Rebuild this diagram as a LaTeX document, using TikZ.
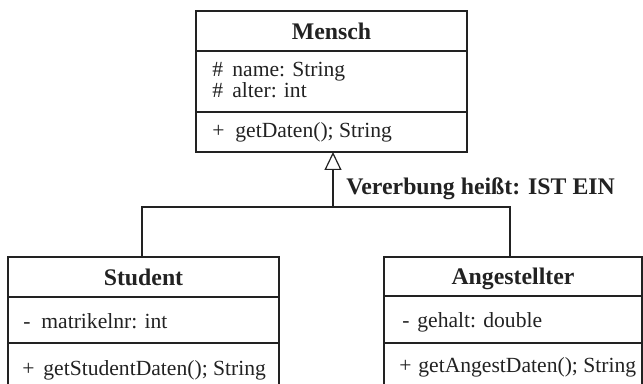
\documentclass[tikz,border=0pt]{standalone}
\usepackage{fontspec}
\setmainfont{Liberation Serif}
\usetikzlibrary{arrows.meta}
\definecolor{ink}{HTML}{222222}
\begin{document}
\begin{tikzpicture}[x=0.5pt,y=-0.5pt,
  classbox/.style={draw=ink, line width=0.6pt, rectangle, inner sep=0pt, outer sep=0pt, anchor=north west},
  classtitle/.style={anchor=base, font=\fontsize{11.9}{13}\selectfont\bfseries, text=ink, inner sep=0pt},
  member/.style={anchor=base west, font=\fontsize{10.8}{12}\selectfont, text=ink, inner sep=0pt},
  sepline/.style={draw=ink, line width=0.6pt},
  link/.style={draw=ink, line width=0.6pt},
  inherit/.style={link, -{Triangle[open, length=9pt, width=8.5pt, fill=white]}},
  lbl/.style={anchor=base west, font=\fontsize{11.9}{13}\selectfont\bfseries, text=ink, inner sep=0pt}]
\useasboundingbox (0,0) rectangle (643,384);
\clip (0,0) rectangle (643,384);

% Mensch
\node[classbox, minimum width=135.5pt, minimum height=70.5pt] (mensch) at (196,11) {};
\draw[sepline] ([yshift=-20pt]mensch.north west) -- ([yshift=-20pt]mensch.north east);
\draw[sepline] ([yshift=-50.5pt]mensch.north west) -- ([yshift=-50.5pt]mensch.north east);
\node[classtitle] (menschT) at (331.5,40) {Mensch};
\node[member] (menschA1) at (212,77) {\makebox[10pt][l]{\#}name: String};
\node[member] (menschA2) at (212,98) {\makebox[10pt][l]{\#}alter: int};
\node[member] (menschM1) at (212,138) {\makebox[11.5pt][l]{+}getDaten(); String};

% Student
\node[classbox, minimum width=135.5pt, minimum height=67.5pt] (stud) at (8,257) {};
\draw[sepline] ([yshift=-20pt]stud.north west) -- ([yshift=-20pt]stud.north east);
\draw[sepline] ([yshift=-43pt]stud.north west) -- ([yshift=-43pt]stud.north east);
\node[classtitle] (studT) at (143.5,286) {Student};
\node[member] (studA1) at (23,329) {\makebox[9pt][l]{-}matrikelnr: int};
\node[member] (studM1) at (22,376) {\makebox[10.5pt][l]{+}getStudentDaten(); String};

% Angestellter
\node[classbox, minimum width=129pt, minimum height=67.5pt] (ang) at (384,257) {};
\draw[sepline] ([yshift=-19.5pt]ang.north west) -- ([yshift=-19.5pt]ang.north east);
\draw[sepline] ([yshift=-43pt]ang.north west) -- ([yshift=-43pt]ang.north east);
\node[classtitle] (angT) at (513,285) {Angestellter};
\node[member] (angA1) at (402,328) {\makebox[7.5pt][l]{-}gehalt: double};
\node[member] (angM1) at (399,373) {\makebox[9.5pt][l]{+}getAngestDaten(); String};

% inheritance
\coordinate (bus) at (333,207);
\coordinate (sTop) at (142,257);
\coordinate (aTop) at (510,257);
\draw[link] (sTop) |- (bus) -| (aTop);
\draw[inherit] (bus) -- (bus |- mensch.south);
\node[lbl] (label) at (346,195) {Vererbung heißt: IST EIN};
\end{tikzpicture}
\end{document}
